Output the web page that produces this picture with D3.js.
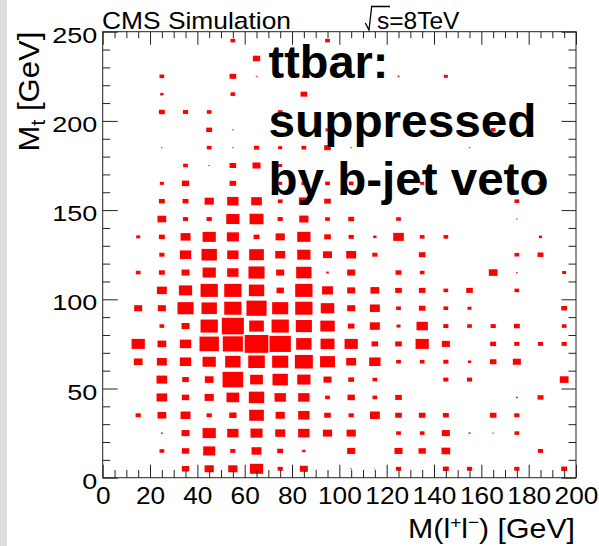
<!DOCTYPE html>
<html>
<head>
<meta charset="utf-8">
<script src="https://cdn.jsdelivr.net/npm/d3@7"></script>
<style>
	body { margin: 0; background: #fff; }
	svg { display: block; font-family: "Liberation Sans", Arial, Helvetica, sans-serif; }
</style>
</head>
<body>
<svg id="chart" width="599" height="546"></svg>
<script>
// bin centres of the 2D histogram (GeV)
const xCenters = [5, 15, 25, 35, 45, 55, 65, 75, 85, 95, 105, 115, 125, 135, 145, 155, 165, 175, 185, 195];
const yCenters = [245, 235, 225, 215, 205, 195, 185, 175, 165, 155, 145, 135, 125, 115, 105, 95, 85, 75, 65, 55, 45, 35, 25, 15, 5];

// box weight per bin (relative, 100 = largest box), one row per yCenters entry
const weights = [
	[0, 0, 0, 0, 0, 20, 0, 0, 0, 20, 0, 0, 0, 0, 0, 0, 0, 0, 0, 0],
	[0, 0, 0, 0, 0, 0, 31, 0, 0, 0, 0, 0, 0, 0, 0, 0, 0, 0, 0, 0],
	[0, 0, 20, 0, 0, 28, 6, 0, 14, 0, 0, 0, 8, 0, 17, 0, 0, 0, 0, 0],
	[0, 0, 14, 0, 0, 20, 0, 0, 28, 0, 0, 0, 0, 0, 0, 0, 0, 0, 0, 0],
	[0, 0, 25, 22, 20, 0, 0, 20, 0, 0, 0, 0, 0, 0, 0, 0, 0, 0, 0, 0],
	[0, 0, 0, 0, 25, 6, 0, 0, 0, 17, 0, 0, 0, 0, 0, 0, 20, 0, 0, 0],
	[0, 0, 6, 0, 20, 6, 22, 17, 20, 28, 6, 0, 0, 0, 0, 6, 0, 0, 0, 0],
	[0, 0, 0, 20, 6, 28, 34, 17, 0, 0, 0, 0, 0, 0, 0, 0, 0, 0, 0, 0],
	[0, 0, 17, 31, 0, 28, 0, 17, 20, 20, 20, 0, 0, 17, 0, 0, 0, 0, 17, 0],
	[0, 0, 25, 25, 39, 48, 45, 20, 42, 28, 0, 0, 0, 0, 0, 0, 0, 20, 0, 0],
	[0, 0, 37, 22, 22, 56, 59, 22, 39, 20, 25, 0, 20, 0, 0, 0, 0, 6, 0, 0],
	[0, 17, 25, 42, 56, 51, 25, 39, 56, 28, 22, 14, 45, 20, 20, 0, 0, 0, 14, 0],
	[0, 0, 22, 48, 65, 48, 62, 42, 56, 38, 42, 22, 0, 28, 0, 0, 0, 20, 25, 0],
	[0, 20, 25, 34, 56, 48, 68, 34, 65, 11, 34, 0, 25, 20, 0, 0, 37, 6, 0, 17],
	[0, 0, 42, 56, 73, 73, 65, 31, 73, 46, 34, 37, 28, 28, 20, 28, 0, 20, 0, 0],
	[0, 34, 34, 68, 65, 73, 85, 68, 73, 57, 34, 42, 20, 28, 20, 17, 0, 0, 0, 25],
	[0, 0, 20, 34, 73, 93, 62, 73, 68, 61, 28, 42, 17, 48, 22, 20, 22, 25, 0, 20],
	[0, 56, 37, 48, 82, 85, 100, 90, 65, 59, 56, 28, 28, 56, 34, 0, 25, 22, 22, 22],
	[0, 37, 42, 48, 56, 65, 70, 68, 76, 63, 42, 48, 20, 20, 22, 14, 28, 34, 0, 0],
	[0, 0, 45, 28, 37, 87, 54, 65, 56, 34, 25, 20, 0, 0, 22, 22, 0, 0, 0, 37],
	[0, 0, 45, 31, 39, 54, 65, 48, 48, 20, 31, 20, 28, 0, 0, 0, 0, 8, 25, 0],
	[0, 22, 37, 42, 22, 31, 62, 39, 48, 28, 22, 42, 28, 28, 25, 0, 28, 22, 0, 0],
	[0, 0, 8, 34, 56, 48, 51, 42, 48, 39, 39, 0, 20, 20, 34, 8, 6, 20, 0, 0],
	[0, 0, 20, 31, 51, 22, 42, 25, 14, 0, 34, 0, 34, 31, 37, 0, 0, 0, 22, 0],
	[0, 0, 0, 31, 39, 39, 56, 22, 34, 0, 6, 4, 22, 0, 25, 22, 0, 22, 0, 25]
];

const xTicks = [0, 20, 40, 60, 80, 100, 120, 140, 160, 180, 200];
const yTicks = [0, 50, 100, 150, 200, 250];
const binSize = 10;

const annotation = ['ttbar:', 'suppressed', 'by b-jet veto'];

let svg = d3.select('#chart');

svg.append('rect')
	.attr('x', 0).attr('y', 0)
	.attr('width', 7).attr('height', 546)
	.attr('fill', '#dcdcdc');

let x = d3.scaleLinear().domain([0, 200]).range([102.7, 576]);
let y = d3.scaleLinear().domain([0, 250]).range([477.7, 31.7]);
let side = d3.scaleLinear().domain([0, 100]).range([0, 1]);

let bw = x(binSize) - x(0);
let bh = y(0) - y(binSize);

let cells = yCenters.flatMap((yc, j) => xCenters.map((xc, i) => ({ x: xc, y: yc, w: weights[j][i] })))
	.filter(d => d.w > 0);

svg.append('g')
	.selectAll('rect')
	.data(cells)
	.join('rect')
	.attr('x', d => x(d.x) - side(d.w) * bw / 2)
	.attr('y', d => y(d.y) - side(d.w) * bh / 2)
	.attr('width', d => side(d.w) * bw)
	.attr('height', d => side(d.w) * bh)
	.attr('fill', '#ff0000');

// axes with inward ticks on all four sides
let xMinor = d3.range(0, 201, 5).filter(v => v % 20);
let yMinor = d3.range(0, 251, 10).filter(v => v % 50);

function styleAxis(g) {
	g.attr('font-size', null).attr('font-family', null);
	g.select('.domain').remove();
	g.selectAll('line').attr('stroke', '#222');
}

svg.append('g').attr('transform', `translate(0,${y(0)})`)
	.call(d3.axisBottom(x).tickValues(xMinor).tickSize(-7.7).tickFormat(''))
	.call(styleAxis);
svg.append('g').attr('transform', `translate(0,${y(250)})`)
	.call(d3.axisTop(x).tickValues(xMinor).tickSize(-6.5).tickFormat(''))
	.call(styleAxis);
svg.append('g').attr('transform', `translate(0,${y(250)})`)
	.call(d3.axisTop(x).tickValues(xTicks).tickSize(-13).tickFormat(''))
	.call(styleAxis);
svg.append('g').attr('transform', `translate(${x(0)},0)`)
	.call(d3.axisLeft(y).tickValues(yMinor).tickSize(-7.5).tickFormat(''))
	.call(styleAxis);
svg.append('g').attr('transform', `translate(${x(200)},0)`)
	.call(d3.axisRight(y).tickValues(yMinor).tickSize(-7.5).tickFormat(''))
	.call(styleAxis);
svg.append('g').attr('transform', `translate(${x(200)},0)`)
	.call(d3.axisRight(y).tickValues(yTicks).tickSize(-14.5).tickFormat(''))
	.call(styleAxis);

let xAxis = svg.append('g').attr('transform', `translate(0,${y(0)})`)
	.call(d3.axisBottom(x).tickValues(xTicks).tickSize(-13).tickFormat(d3.format('d')))
	.call(styleAxis);
xAxis.selectAll('text')
	.attr('y', 26.3).attr('dy', 0)
	.attr('font-size', 24).attr('fill', '#000')
	.attr('textLength', d => String(d).length * 14.6)
	.attr('lengthAdjust', 'spacingAndGlyphs');

let yAxis = svg.append('g').attr('transform', `translate(${x(0)},0)`)
	.call(d3.axisLeft(y).tickValues(yTicks).tickSize(-15).tickFormat(d3.format('d')))
	.call(styleAxis);
yAxis.selectAll('text')
	.attr('x', -5.5).attr('y', 10.5).attr('dy', 0)
	.attr('font-size', 21.5).attr('fill', '#000')
	.attr('textLength', d => String(d).length * 15)
	.attr('lengthAdjust', 'spacingAndGlyphs');

svg.append('rect')
	.attr('x', x(0)).attr('y', y(250))
	.attr('width', x(200) - x(0)).attr('height', y(0) - y(250))
	.attr('fill', 'none').attr('stroke', '#222').attr('stroke-width', 1);

// stretch a text node horizontally to a target width
function fitWidth(node, target) {
	let n = node.getComputedTextLength();
	return n > 0 ? target / n : 1;
}

// x title
let xt = svg.append('text')
	.attr('text-anchor', 'end')
	.attr('font-size', 27)
	.attr('fill', '#000');
xt.append('tspan').text('M(l');
xt.append('tspan').attr('dy', -10).attr('font-size', 17).text('+');
xt.append('tspan').attr('dy', 10).text('l');
xt.append('tspan').attr('dy', -10).attr('font-size', 17).text('\u2212');
xt.append('tspan').attr('dy', 10).text(') [GeV]');
xt.attr('transform', `translate(575,538) scale(${fitWidth(xt.node(), 167)},1)`);

// y title
let yt = svg.append('text')
	.attr('text-anchor', 'end')
	.attr('font-size', 30)
	.attr('fill', '#000');
yt.append('tspan').text('M');
yt.append('tspan').attr('dy', 6).attr('font-size', 21).text('t');
yt.append('tspan').attr('dy', -6).text(' [GeV]');
yt.attr('transform', `translate(39,${y(250)}) rotate(-90) scale(${fitWidth(yt.node(), 120)},1)`);

// header
svg.append('text')
	.attr('x', 102).attr('y', 29.3)
	.attr('font-size', 24.5)
	.attr('textLength', 189).attr('lengthAdjust', 'spacingAndGlyphs')
	.text('CMS Simulation');

svg.append('path')
	.attr('d', 'M365.3,23 L369,30 L371.7,6.5 L390,6.5')
	.attr('fill', 'none').attr('stroke', '#000').attr('stroke-width', 1.3);
svg.append('text')
	.attr('x', 377).attr('y', 29.3)
	.attr('font-size', 24.5)
	.text('s=8TeV');

// annotation over the boxes
let lineY = [78, 137, 195];
let lineW = [120, 268, 280];
svg.append('g')
	.selectAll('text')
	.data(annotation)
	.join('text')
	.attr('x', 268.5)
	.attr('y', (d, i) => lineY[i])
	.attr('font-size', 46)
	.attr('font-weight', 'bold')
	.attr('fill', '#000')
	.attr('textLength', (d, i) => lineW[i])
	.attr('lengthAdjust', 'spacingAndGlyphs')
	.text(d => d);
</script>
</body>
</html>
